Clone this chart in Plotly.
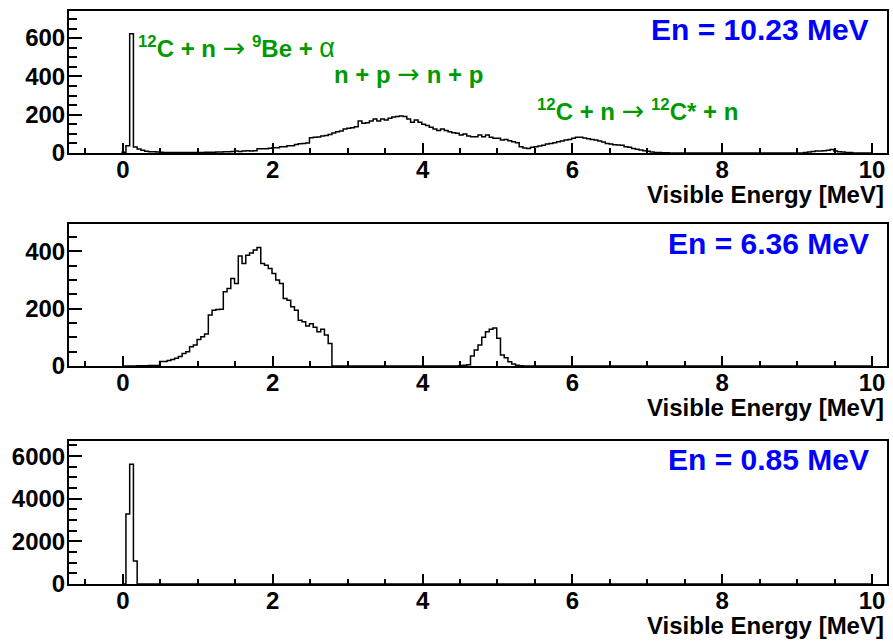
import plotly.graph_objects as go

# ---------------- data ----------------
bin_start = -0.01      # lower edge of first bin [MeV]
bin_width = 0.05       # bin width [MeV]

# Top panel: En = 10.23 MeV (200 bins, 0..10 MeV)
counts_1023 = (
    [4, 38, 623, 31, 21, 14, 9, 7, 6, 5, 4, 3, 3, 2, 3, 2, 2, 3, 2, 2] +           # 0-1
    [3, 3, 4, 4, 4, 5, 5, 6, 7, 8, 10, 8, 10, 12, 10, 12, 22, 22, 22, 25] +        # 1-2
    [28, 28, 33, 33, 38, 38, 45, 48, 50, 52, 80, 82, 84, 89, 92, 97, 104, 111, 115, 125] +  # 2-3
    [129, 132, 137, 167, 155, 158, 167, 177, 167, 177, 172, 181, 188, 190, 193, 190, 177, 160, 172, 160] +  # 3-4
    [150, 143, 134, 125, 118, 125, 118, 111, 106, 103, 94, 99, 89, 85, 85, 94, 85, 94, 82, 77] +  # 4-5
    [77, 68, 71, 64, 59, 54, 33, 26, 24, 30, 33, 37, 40, 47, 50, 54, 59, 63, 68, 71] +  # 5-6
    [77, 82, 82, 78, 75, 71, 68, 63, 57, 50, 47, 43, 42, 40, 33, 30, 24, 19, 16, 12] +  # 6-7
    [9, 5, 3, 2, 1, 1, 0, 0, 0, 0, 0, 0, 0, 0, 0, 0, 0, 0, 0, 0] +                  # 7-8
    [0, 0, 0, 0, 0, 0, 0, 0, 0, 0, 0, 0, 0, 0, 0, 0, 0, 0, 0, 0] +                  # 8-9
    [0, 0, 3, 5, 8, 10, 10, 12, 15, 18, 10, 6, 5, 3, 2, 0, 0, 0, 0, 0]              # 9-10
)

# Middle panel: En = 6.36 MeV
counts_636 = (
    [0, 0, 0, 0, 1, 1, 1, 2, 2, 2, 16, 16, 19, 23, 27, 33, 44, 50, 67, 73] +        # 0-1
    [93, 102, 112, 178, 195, 197, 198, 259, 271, 306, 288, 384, 358, 387, 395, 405, 414, 358, 352, 341] +  # 1-2
    [323, 300, 288, 236, 230, 207, 195, 160, 155, 140, 148, 135, 120, 128, 108, 79, 0, 0, 0, 0] +  # 2-3
    [0] * 20 +                                                                      # 3-4
    [0, 0, 0, 0, 0, 0, 0, 0, 0, 0, 2, 3, 4, 35, 56, 73, 100, 120, 128, 133] +      # 4-5
    [97, 38, 29, 15, 7, 3, 1, 0, 0, 0, 0, 0, 0, 0, 0, 0, 0, 0, 0, 0] +              # 5-6
    [0] * 80                                                                        # 6-10
)

# Bottom panel: En = 0.85 MeV
counts_085 = [0, 3281, 5625, 1078] + [0] * 196

panel_counts = [counts_1023, counts_636, counts_085]
energy_labels = ["En = 10.23 MeV", "En = 6.36 MeV", "En = 0.85 MeV"]
y_max = [744, 495, 6734]
y_major = [200, 200, 2000]
y_minor = [50, 50, 500]
x_range = [-0.72, 10.2]
x_title = "Visible Energy [MeV]"

ARROW = '<span style="font-family:\'DejaVu Sans\';font-weight:normal;font-size:27px">\u2192</span>'
ALPHA = '<span style="font-weight:normal;font-size:27px">\u03b1</span>'
process_labels = [
    "<sup>12</sup>C + n " + ARROW + " <sup>9</sup>Be + " + ALPHA,
    "n + p " + ARROW + " n + p",
    "<sup>12</sup>C + n " + ARROW + " <sup>12</sup>C* + n",
]

# ---------------- layout helpers ----------------
W, H = 893, 642
ML, MR, MT, MB = 69, 6, 10, 58
PW, PH = W - ML - MR, H - MT - MB


def px2paper(px):
    return (px - ML) / PW


def py2paper(py):
    return (H - MB - py) / PH


# panel frames in pixel coordinates (top, bottom)
frames = [(10.5, 153), (224.3, 366), (440.5, 584)]

FONT = "Liberation Sans"
GREEN = "#009a00"
BLUE = "#0000ff"

fig = go.Figure()
annotations = []

for i, counts in enumerate(panel_counts):
    n = len(counts)
    edges = [bin_start + bin_width * k for k in range(n + 1)]
    xs = [edges[0]] + edges
    ys = [0] + list(counts) + [0]
    xa = "x" if i == 0 else f"x{i + 1}"
    ya = "y" if i == 0 else f"y{i + 1}"
    fig.add_trace(go.Scatter(
        x=xs, y=ys, mode="lines", line=dict(color="black", width=1.5, shape="hv"),
        xaxis=xa, yaxis=ya, showlegend=False, hoverinfo="skip",
    ))

    top, bot = frames[i]
    dom = [py2paper(bot), py2paper(top)]
    axis_common = dict(
        showline=True, linewidth=2, linecolor="black", mirror=True,
        showgrid=False, zeroline=False, ticks="inside", tickcolor="black",
        tickwidth=1.5, automargin=False,
        tickfont=dict(family=FONT, size=24, color="black", weight="bold"),
    )
    xkey = "xaxis" if i == 0 else f"xaxis{i + 1}"
    ykey = "yaxis" if i == 0 else f"yaxis{i + 1}"
    fig.update_layout(**{
        xkey: dict(axis_common, range=x_range, tick0=0, dtick=2, ticklen=10,
                   anchor=ya, domain=[0, 1], ticklabelstandoff=-6,
                   minor=dict(ticks="inside", ticklen=5, dtick=0.5, tick0=0,
                              tickcolor="black", tickwidth=1.5)),
        ykey: dict(axis_common, range=[0, y_max[i]], tick0=0, dtick=y_major[i],
                   ticklen=13, anchor=xa, domain=dom, ticklabelstandoff=-3,
                   minor=dict(ticks="inside", ticklen=8, dtick=y_minor[i], tick0=0,
                              tickcolor="black", tickwidth=1.5)),
    })

    # axis title (right aligned, below panel)
    annotations.append(dict(
        text=x_title, xref="paper", yref="paper", x=px2paper(886),
        y=py2paper(bot + 41), xanchor="right", yanchor="middle", showarrow=False,
        font=dict(family=FONT, size=24, color="black", weight="bold"),
    ))
    # energy label
    annotations.append(dict(
        text=energy_labels[i], xref="paper", yref="paper", x=px2paper(871),
        y=py2paper(top + 19), xanchor="right", yanchor="middle", showarrow=False,
        font=dict(family=FONT, size=30, color=BLUE, weight="bold"),
    ))

# process labels on top panel
proc_pos = [(136, 47), (332, 74), (535, 110)]
for txt, (px, py) in zip(process_labels, proc_pos):
    annotations.append(dict(
        text=txt, xref="paper", yref="paper", x=px2paper(px), y=py2paper(py),
        xanchor="left", yanchor="middle", showarrow=False,
        font=dict(family=FONT, size=24, color=GREEN, weight="bold"),
    ))

fig.update_layout(
    width=W, height=H,
    margin=dict(l=ML, r=MR, t=MT, b=MB, autoexpand=False),
    paper_bgcolor="white", plot_bgcolor="white",
    annotations=annotations, showlegend=False,
)

fig.write_html(
    "out.html",
    config={"displayModeBar": False},
    post_script="document.body.style.margin='0';document.body.style.padding='0';",
)
